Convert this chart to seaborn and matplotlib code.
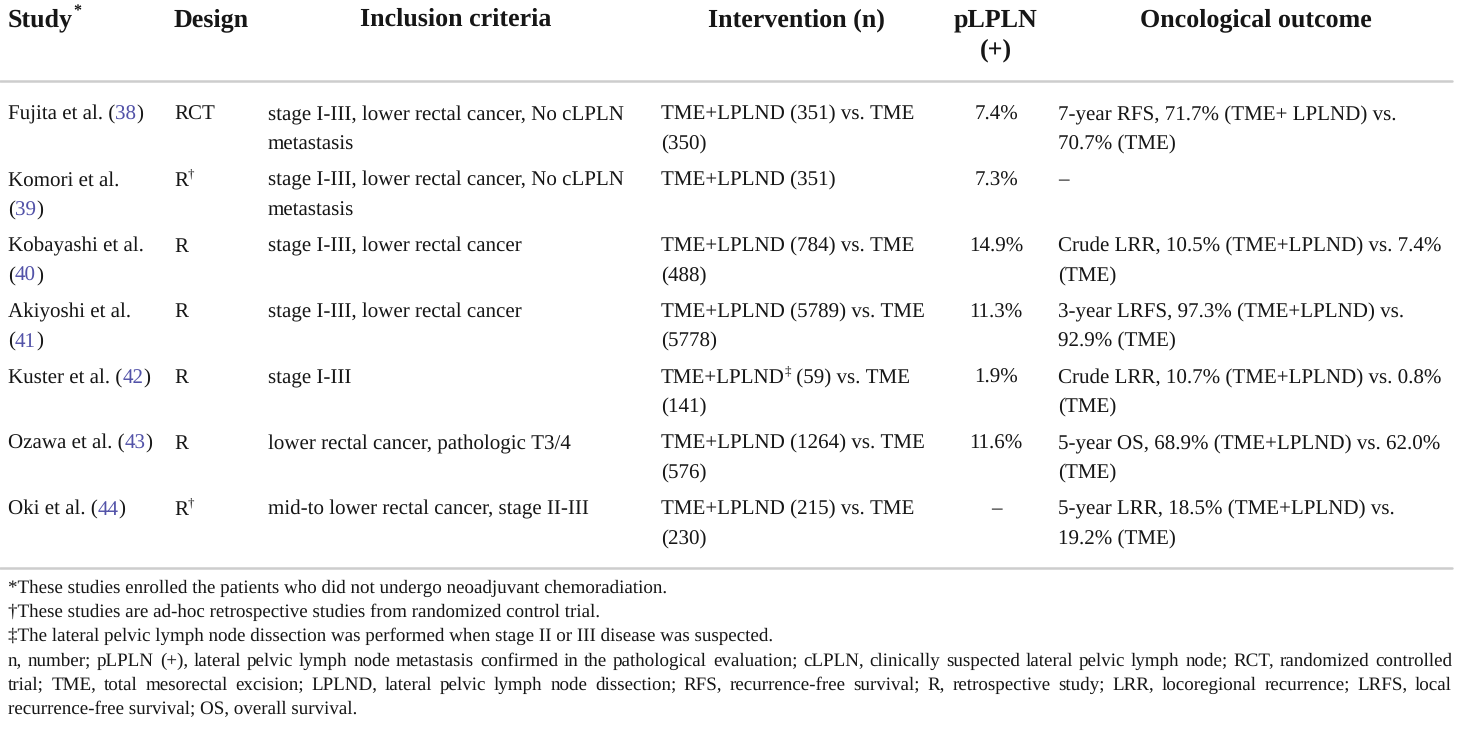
import re
import matplotlib
matplotlib.use("Agg")
import matplotlib.pyplot as plt
import seaborn as sns
from matplotlib.font_manager import FontProperties

# table content ([..] = linked reference number, ^x = superscript mark)
headers = ["Study^*", "Design", "Inclusion criteria", "Intervention (n)", "pLPLN\n(+)", "Oncological outcome"]
studies = ["Fujita et al. ([38])", "Komori et al.\n([39])", "Kobayashi et al.\n([40])",
           "Akiyoshi et al.\n([41])", "Kuster et al. ([42])", "Ozawa et al. ([43])", "Oki et al. ([44])"]
designs = ["RCT", "R^†", "R", "R", "R", "R", "R^†"]
criteria = ["stage I-III, lower rectal cancer, No cLPLN\nmetastasis",
            "stage I-III, lower rectal cancer, No cLPLN\nmetastasis",
            "stage I-III, lower rectal cancer",
            "stage I-III, lower rectal cancer",
            "stage I-III",
            "lower rectal cancer, pathologic T3/4",
            "mid-to lower rectal cancer, stage II-III"]
interventions = ["TME+LPLND (351) vs. TME\n(350)", "TME+LPLND (351)", "TME+LPLND (784) vs. TME\n(488)",
                 "TME+LPLND (5789) vs. TME\n(5778)", "TME+LPLND^‡ (59) vs. TME\n(141)",
                 "TME+LPLND (1264) vs. TME\n(576)", "TME+LPLND (215) vs. TME\n(230)"]
plpln = ["7.4%", "7.3%", "14.9%", "11.3%", "1.9%", "11.6%", "–"]
outcomes = ["7-year RFS, 71.7% (TME+ LPLND) vs.\n70.7% (TME)", "–",
            "Crude LRR, 10.5% (TME+LPLND) vs. 7.4%\n(TME)",
            "3-year LRFS, 97.3% (TME+LPLND) vs.\n92.9% (TME)",
            "Crude LRR, 10.7% (TME+LPLND) vs. 0.8%\n(TME)",
            "5-year OS, 68.9% (TME+LPLND) vs. 62.0%\n(TME)",
            "5-year LRR, 18.5% (TME+LPLND) vs.\n19.2% (TME)"]
notes = ["*These studies enrolled the patients who did not undergo neoadjuvant chemoradiation.",
         "†These studies are ad-hoc retrospective studies from randomized control trial.",
         "‡The lateral pelvic lymph node dissection was performed when stage II or III disease was suspected."]
abbrev = ("n, number; pLPLN (+), lateral pelvic lymph node metastasis confirmed in the pathological evaluation; "
          "cLPLN, clinically suspected lateral pelvic lymph node; RCT, randomized controlled\n"
          "trial; TME, total mesorectal excision; LPLND, lateral pelvic lymph node dissection; RFS, "
          "recurrence-free survival; R, retrospective study; LRR, locoregional recurrence; LRFS, local\n"
          "recurrence-free survival; OS, overall survival.")

sns.set_theme(style="white")
plt.rcParams["font.family"] = ["Liberation Serif", "DejaVu Serif"]
# no hinting keeps measured widths and drawn glyphs in step
plt.rcParams["text.hinting"] = "no_hinting"
plt.rcParams["text.hinting_factor"] = 1

W, H = 1460, 735
fig = plt.figure(figsize=(W / 100, H / 100), dpi=100)
ax = fig.add_axes([0, 0, 1, 1])
ax.set_xlim(0, W)
ax.set_ylim(H, 0)
ax.axis("off")
renderer = fig.canvas.get_renderer()

TXT = "#161616"
LINK = "#5252a8"
RULE = "#cdcdcd"
BODY = 15.2
HEAD = 18.8
NOTE = 13.95
RIGHT = 1452


def width(s, size, weight="normal"):
    prop = FontProperties(family=["Liberation Serif"], size=size, weight=weight)
    w1 = renderer.get_text_width_height_descent("|" + s + "|", prop, ismath=False)[0]
    w0 = renderer.get_text_width_height_descent("||", prop, ismath=False)[0]
    return w1 - w0


def parse(s):
    out, pos = [], 0
    for m in re.finditer(r"\[([^\]]+)\]|\^(.)", s):
        if m.start() > pos:
            out.append((s[pos:m.start()], "plain"))
        out.append((m.group(1), "link") if m.group(1) else (m.group(2), "sup"))
        pos = m.end()
    if pos < len(s):
        out.append((s[pos:], "plain"))
    return out


def rich(x, y, s, size, weight="normal", ha="left"):
    segs = parse(s)
    sizes = [size * 0.62 if k == "sup" else size for _, k in segs]
    total = sum(width(t, sz, weight) for (t, _), sz in zip(segs, sizes))
    if ha == "center":
        x -= total / 2
    for (t, k), sz in zip(segs, sizes):
        dy = -size * 0.55 if k == "sup" else 0
        ax.text(x, y + dy, t, fontsize=sz, fontweight=weight, va="baseline", ha="left",
                color=LINK if k == "link" else TXT)
        x += width(t, sz, weight)


def cell(x, y, s, size=BODY, weight="normal", ha="left", lead=29.5):
    for i, line in enumerate(s.split("\n")):
        rich(x, y + i * lead, line, size, weight, ha)


# header
head_x = [8, 174, 456, 796, 996, 1256]
head_ha = ["left", "left", "center", "center", "center", "center"]
for hx, ha, h in zip(head_x, head_ha, headers):
    cell(hx, 26, h, size=HEAD, weight="bold", ha=ha, lead=30)

ax.plot([0, RIGHT], [81, 81], color=RULE, lw=1.8)

# body rows
row_y0, row_step = 120, 65.8
for i in range(len(studies)):
    y = row_y0 + i * row_step
    cell(8, y, studies[i])
    cell(174, y, designs[i])
    cell(268, y, criteria[i])
    cell(661, y, interventions[i])
    cell(996, y, plpln[i], ha="center")
    cell(1058, y, outcomes[i])

ax.plot([0, RIGHT], [568, 568], color=RULE, lw=1.8)

# footnotes
note_y0, note_step = 593, 24.2
for i, n in enumerate(notes):
    rich(8, note_y0 + i * note_step, n, NOTE)

ab_lines = abbrev.split("\n")
for j, line in enumerate(ab_lines):
    y = note_y0 + (len(notes) + j) * note_step
    words = line.split(" ")
    if j < len(ab_lines) - 1:
        ws = [width(w, NOTE) for w in words]
        gap = (RIGHT - 8 - sum(ws)) / (len(words) - 1)
        x = 8
        for w, wd in zip(words, ws):
            ax.text(x, y, w, fontsize=NOTE, va="baseline", ha="left", color=TXT)
            x += wd + gap
    else:
        ax.text(8, y, line, fontsize=NOTE, va="baseline", ha="left", color=TXT)

fig.savefig("out.png", dpi=100, facecolor="white")
